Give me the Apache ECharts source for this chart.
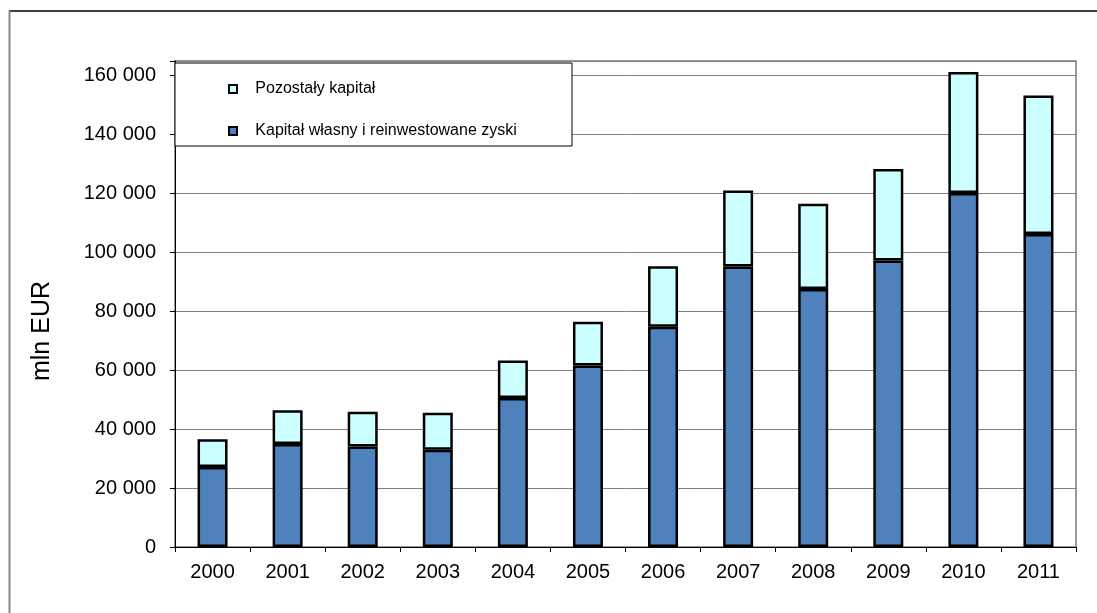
<!DOCTYPE html>
<html>
<head>
<meta charset="utf-8">
<script src="https://cdn.jsdelivr.net/npm/echarts@6/dist/echarts.min.js"></script>
<style>html,body{margin:0;padding:0;background:#fff}#c{width:1097px;height:613px}</style>
</head>
<body>
<div id="c"></div>
<script>
const years = ['2000','2001','2002','2003','2004','2005','2006','2007','2008','2009','2010','2011'];
const equityName = 'Kapitał własny i reinwestowane zyski';
const otherName = 'Pozostały kapitał';
const equityValues = [27200, 35000, 34100, 33000, 50600, 61600, 74800, 95200, 87600, 97300, 120200, 106300];
const otherValues = [9400, 11400, 11800, 12600, 12700, 14900, 20500, 25800, 28900, 31000, 41100, 47000];
const yTicks = [0, 20000, 40000, 60000, 80000, 100000, 120000, 140000, 160000];
const axisTitle = 'mln EUR';

const FONT = 'Arial, "Liberation Sans", sans-serif';
function fmt(v) {
  if (yTicks.indexOf(v) < 0) return '';
  return String(v).replace(/\B(?=(\d{3})+(?!\d))/g, ' ');
}

const chart = echarts.init(document.getElementById('c'), null, {renderer: 'canvas'});
chart.setOption({
  animation: false,
  backgroundColor: '#ffffff',
  grid: {
    left: 175, right: 21, top: 61, bottom: 66,
    show: true, borderColor: '#9a9a9a', borderWidth: 2, backgroundColor: 'transparent'
  },
  legend: {
    data: [
      {name: otherName, icon: 'rect'},
      {name: equityName, icon: 'rect'}
    ],
    orient: 'vertical',
    left: 223, top: 75,
    itemWidth: 8, itemHeight: 8, itemGap: 24,
    z: 20,
    selectedMode: false,
    itemStyle: {borderColor: '#000', borderWidth: 2},
    textStyle: {fontFamily: FONT, fontSize: 16, color: '#000', lineHeight: 18},
    formatter: function (n) { return '   ' + n; }
  },
  xAxis: {
    type: 'category',
    data: years,
    axisLine: {lineStyle: {color: '#000', width: 1}},
    axisTick: {show: true, length: 5, lineStyle: {color: '#000'}},
    axisLabel: {fontFamily: FONT, fontSize: 20, color: '#000', margin: 15},
    splitLine: {show: false}
  },
  yAxis: {
    type: 'value',
    min: 0, max: 165000, interval: 20000,
    axisLine: {show: true, lineStyle: {color: '#000', width: 1}},
    axisTick: {show: true, length: 5, lineStyle: {color: '#000'}},
    axisLabel: {fontFamily: FONT, fontSize: 20, color: '#000', margin: 19, formatter: fmt},
    splitLine: {show: true, lineStyle: {color: '#808080', width: 1}}
  },
  graphic: [
    {type: 'line', shape: {x1: 9, y1: 11, x2: 1097, y2: 11}, style: {stroke: '#000', lineWidth: 1.5}, z: 5},
    {type: 'line', shape: {x1: 9.5, y1: 11, x2: 9.5, y2: 613}, style: {stroke: '#888', lineWidth: 2}, z: 5},
    {type: 'rect', shape: {x: 175, y: 63, width: 397, height: 83}, style: {fill: '#fff', stroke: '#000', lineWidth: 1}, z: 15},
    {type: 'text', x: 42, y: 331, rotation: Math.PI / 2, z: 5,
     style: {text: axisTitle, font: '25px Arial, "Liberation Sans", sans-serif', fill: '#000', align: 'center', verticalAlign: 'middle'}}
  ],
  series: [
    {
      name: equityName, type: 'bar', stack: 'total', barWidth: 30,
      data: equityValues,
      itemStyle: {color: '#4f81bd', borderColor: '#000', borderWidth: 2.5}
    },
    {
      name: otherName, type: 'bar', stack: 'total', barWidth: 30,
      data: otherValues,
      itemStyle: {color: '#ccffff', borderColor: '#000', borderWidth: 2.5}
    }
  ]
});
</script>
</body>
</html>
